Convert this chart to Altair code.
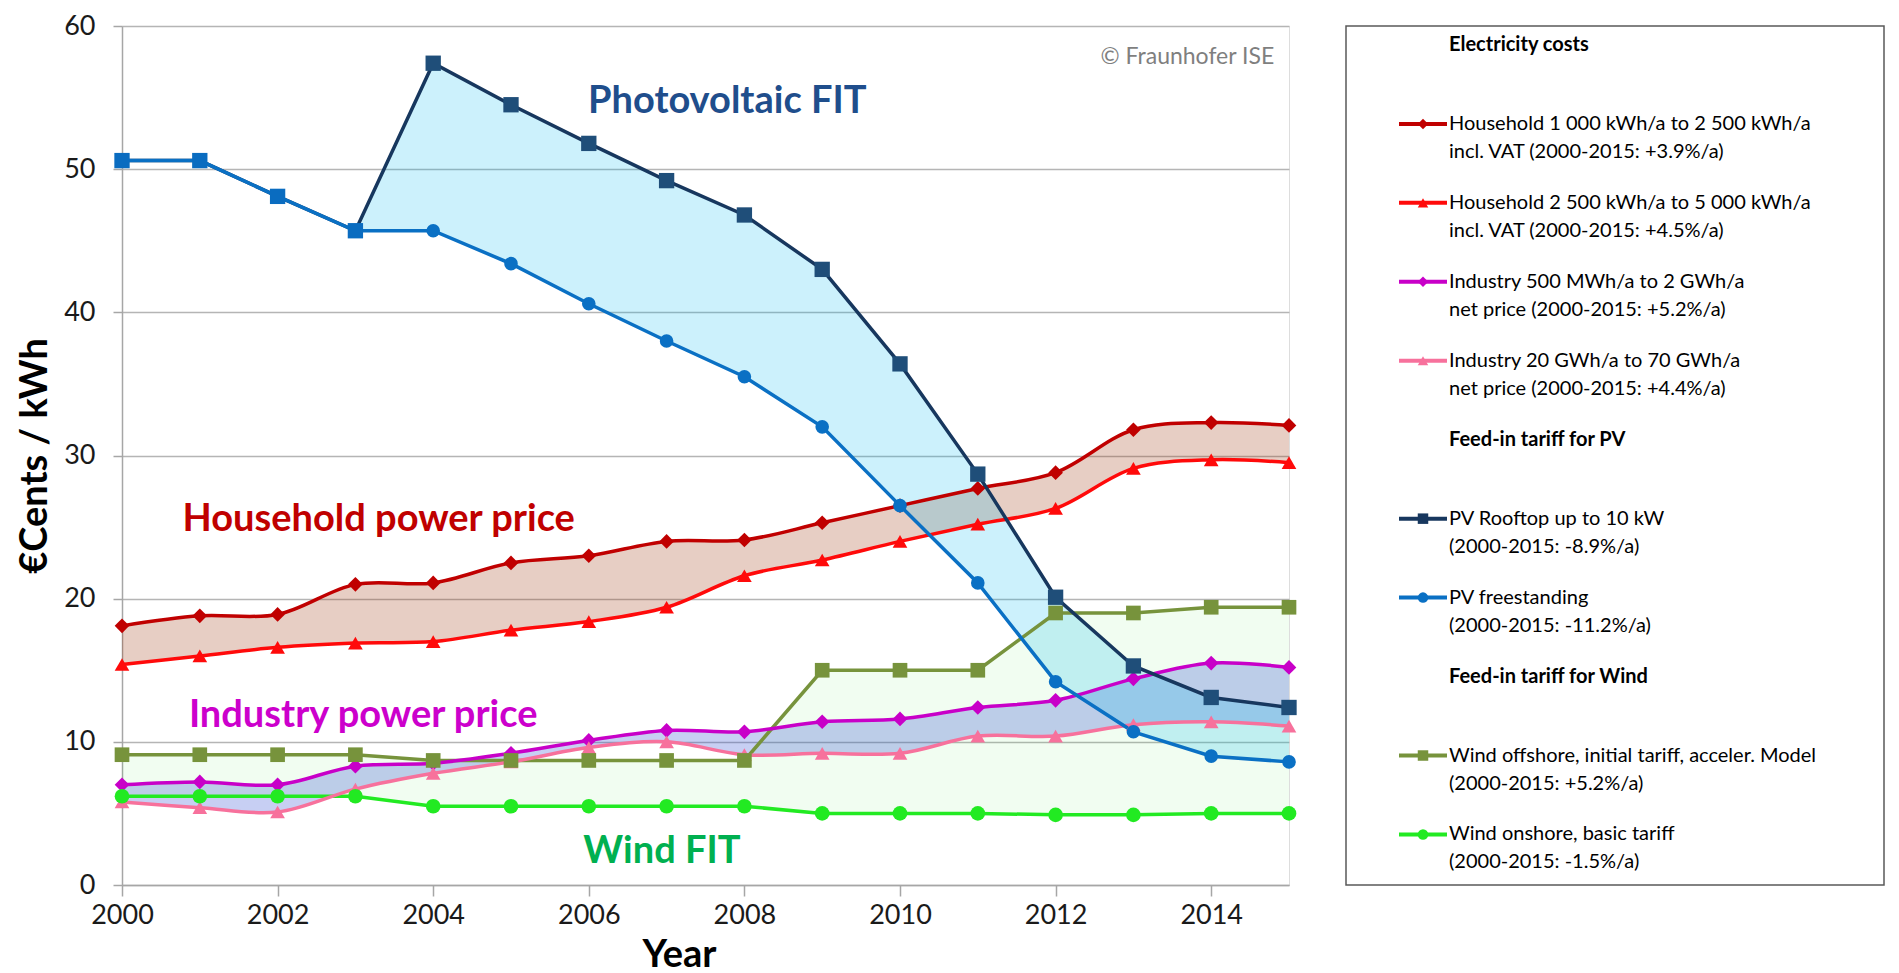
import altair as alt
import pandas as pd

# ---------------- data ----------------
years = list(range(2000, 2016))
household_1000_2500 = [18.1, 18.8, 18.9, 21.0, 21.1, 22.5, 23.0, 24.0, 24.1, 25.3, 26.5, 27.7, 28.8, 31.8, 32.3, 32.1]
household_2500_5000 = [15.4, 16.0, 16.6, 16.9, 17.0, 17.8, 18.4, 19.4, 21.6, 22.7, 24.0, 25.2, 26.3, 29.1, 29.7, 29.5]
industry_500mwh_2gwh = [7.0, 7.2, 7.0, 8.3, 8.5, 9.2, 10.1, 10.8, 10.7, 11.4, 11.6, 12.4, 12.9, 14.4, 15.5, 15.2]
industry_20_70gwh = [5.8, 5.4, 5.1, 6.7, 7.8, 8.6, 9.6, 10.0, 9.1, 9.2, 9.2, 10.4, 10.4, 11.2, 11.4, 11.1]
pv_rooftop = [50.6, 50.6, 48.1, 45.7, 57.4, 54.5, 51.8, 49.2, 46.8, 43.0, 36.4, 28.7, 20.1, 15.3, 13.1, 12.4]
pv_freestanding = [50.6, 50.6, 48.1, 45.7, 45.7, 43.4, 40.6, 38.0, 35.5, 32.0, 26.5, 21.1, 14.2, 10.7, 9.0, 8.6]
wind_offshore = [9.1, 9.1, 9.1, 9.1, 8.7, 8.7, 8.7, 8.7, 8.7, 15.0, 15.0, 15.0, 19.0, 19.0, 19.4, 19.4]
wind_onshore = [6.2, 6.2, 6.2, 6.2, 5.5, 5.5, 5.5, 5.5, 5.5, 5.0, 5.0, 5.0, 4.9, 4.9, 5.0, 5.0]

x_tick_values = [2000, 2002, 2004, 2006, 2008, 2010, 2012, 2014]
y_tick_values = [0, 10, 20, 30, 40, 50, 60]

annotation_labels = ["Photovoltaic FIT", "Household power price", "Industry power price", "Wind FIT"]
annotation_years = [2007.78, 2003.3, 2003.1, 2006.94]
annotation_values = [54.7, 25.5, 11.8, 2.3]
copyright_label = ["© Fraunhofer ISE"]
copyright_year = [2014.81]
copyright_value = [57.8]

legend_keys = ["", "hh1", "hh2", "ind1", "ind2", "", "pv_roof", "pv_free", "", "wind_off", "wind_on"]
legend_line1 = [
    "Electricity costs",
    "Household 1 000 kWh/a to 2 500 kWh/a",
    "Household 2 500 kWh/a to 5 000 kWh/a",
    "Industry 500 MWh/a to 2 GWh/a",
    "Industry 20 GWh/a to 70 GWh/a",
    "Feed-in tariff for PV",
    "PV Rooftop up to 10 kW",
    "PV freestanding",
    "Feed-in tariff for Wind",
    "Wind offshore, initial tariff, acceler. Model",
    "Wind onshore, basic tariff",
]
legend_line2 = [
    "",
    "incl. VAT (2000-2015: +3.9%/a)",
    "incl. VAT (2000-2015: +4.5%/a)",
    "net price (2000-2015: +5.2%/a)",
    "net price (2000-2015: +4.4%/a)",
    "",
    "(2000-2015: -8.9%/a)",
    "(2000-2015: -11.2%/a)",
    "",
    "(2000-2015: +5.2%/a)",
    "(2000-2015: -1.5%/a)",
]

# ---------------- styles ----------------
series_keys = ["hh1", "hh2", "ind1", "ind2", "pv_roof", "pv_free", "wind_off", "wind_on"]
series_colors = ["#c00000", "#ff0a0a", "#c800c8", "#f7719c", "#17375e", "#0a70c4", "#77933c", "#22ea22"]
series_shapes = ["diamond", "triangle-up", "diamond", "triangle-up", "square", "circle", "square", "circle"]
annotation_colors = ["#1f4e8c", "#c00000", "#cc00cc", "#00b050"]

FONT = "Lato"
W, H = 1167, 859

wide = pd.DataFrame({
    "year": years,
    "hh1": household_1000_2500,
    "hh2": household_2500_5000,
    "ind1": industry_500mwh_2gwh,
    "ind2": industry_20_70gwh,
    "pv_roof": pv_rooftop,
    "pv_free": pv_freestanding,
    "wind_off": wind_offshore,
    "wind_on": wind_onshore,
})
long = wide.melt(id_vars="year", var_name="key", value_name="value")

xs = alt.Scale(domain=[2000, 2015], nice=False, zero=False)
ys = alt.Scale(domain=[0, 60], nice=False, zero=True)
x_axis = alt.Axis(values=x_tick_values, format="d", title="Year", grid=False, labelFlush=False,
                  labelFontSize=27, labelPadding=6, tickSize=11, titleFontSize=38,
                  titleFontWeight="bold", titlePadding=8, titleColor="#000000", titleX=557,
                  labelColor="#1a1a1a", domainColor="#a6a6a6", tickColor="#a6a6a6",
                  domainWidth=1.5, tickWidth=1.5, labelFont=FONT, titleFont=FONT)
y_axis = alt.Axis(values=y_tick_values, title="€Cents / kWh", grid=True,
                  gridColor="#b5b5b5", gridWidth=1.5, labelFontSize=27, labelPadding=18,
                  tickSize=9, titleFontSize=38, titleFontWeight="bold", titlePadding=9,
                  titleColor="#000000", labelColor="#1a1a1a", domainColor="#a6a6a6",
                  tickColor="#a6a6a6", domainWidth=1.5, tickWidth=1.5,
                  labelFont=FONT, titleFont=FONT)

X = alt.X("year:Q", scale=xs, axis=x_axis)


def Y(field):
    return alt.Y(f"{field}:Q", scale=ys, axis=y_axis)


color_scale = alt.Scale(domain=series_keys, range=series_colors)
shape_scale = alt.Scale(domain=series_keys, range=series_shapes)

base = alt.Chart(wide)
smooth = "catmull-rom"

wind_fill = base.mark_area(color="#3cdc3c", opacity=0.07).encode(x=X, y=Y("wind_off"), y2="wind_on:Q")
ind_fill = base.mark_area(color="#2846d2", opacity=0.26, interpolate=smooth).encode(x=X, y=Y("ind1"), y2="ind2:Q")
hh_fill = base.mark_area(color="#a03c14", opacity=0.25, interpolate=smooth).encode(x=X, y=Y("hh1"), y2="hh2:Q")
pv_fill = base.mark_area(color="#00b8f0", opacity=0.2).encode(x=X, y=Y("pv_roof"), y2="pv_free:Q")

lbase = alt.Chart(long)
col = alt.Color("key:N", scale=color_scale, legend=None)
shp = alt.Shape("key:N", scale=shape_scale, legend=None)

wind_lines = lbase.transform_filter(
    alt.FieldOneOfPredicate(field="key", oneOf=["wind_off", "wind_on"])
).mark_line(strokeWidth=3.5).encode(x=X, y=Y("value"), color=col)
smooth_lines = lbase.transform_filter(
    alt.FieldOneOfPredicate(field="key", oneOf=["ind2", "ind1", "hh2", "hh1"])
).mark_line(strokeWidth=3.5, interpolate=smooth).encode(x=X, y=Y("value"), color=col)
roof_line = base.mark_line(strokeWidth=3.5, color="#17375e").encode(x=X, y=Y("pv_roof"))
free_line = base.mark_line(strokeWidth=3.5, color="#0a70c4").encode(x=X, y=Y("pv_free"))

other_points = lbase.transform_filter(
    alt.FieldOneOfPredicate(field="key", oneOf=["wind_off", "wind_on", "ind2", "ind1", "hh2", "hh1"])
).mark_point(filled=True, opacity=1, size=215).encode(x=X, y=Y("value"), color=col, shape=shp)

roof_points = base.transform_filter("datum.pv_roof != datum.pv_free").mark_point(
    filled=True, opacity=1, size=235, shape="square", color="#1f4e79"
).encode(x=X, y=Y("pv_roof"))
free_points = base.transform_filter("datum.pv_roof != datum.pv_free").mark_point(
    filled=True, opacity=1, size=185, shape="circle", color="#0a70c4"
).encode(x=X, y=Y("pv_free"))
shared_points = base.transform_filter("datum.pv_roof == datum.pv_free").mark_point(
    filled=True, opacity=1, size=235, shape="square", color="#0a6cc0"
).encode(x=X, y=Y("pv_free"))

annot_df = pd.DataFrame({"label": annotation_labels, "year": annotation_years, "value": annotation_values})
annotations = alt.Chart(annot_df).mark_text(
    font=FONT, fontSize=38, fontWeight="bold", align="center", baseline="middle"
).encode(
    x=alt.X("year:Q", scale=xs, axis=x_axis),
    y=alt.Y("value:Q", scale=ys, axis=y_axis),
    text="label:N",
    color=alt.Color("label:N", scale=alt.Scale(domain=annotation_labels, range=annotation_colors), legend=None),
)
copy_df = pd.DataFrame({"label": copyright_label, "year": copyright_year, "value": copyright_value})
copyright_mark = alt.Chart(copy_df).mark_text(
    font=FONT, fontSize=23, align="right", baseline="middle", color="#7f7f7f"
).encode(
    x=alt.X("year:Q", scale=xs, axis=x_axis),
    y=alt.Y("value:Q", scale=ys, axis=y_axis),
    text="label:N",
)

main = alt.layer(
    wind_fill, ind_fill, hh_fill, pv_fill,
    wind_lines, smooth_lines, roof_line, free_line,
    other_points, roof_points, shared_points, free_points,
    annotations, copyright_mark,
).resolve_scale(color="independent").properties(width=W, height=H)

# ---------------- legend panel ----------------
legend_df = pd.DataFrame({
    "row": list(range(len(legend_keys))),
    "key": legend_keys,
    "line1": legend_line1,
    "line2": legend_line2,
})
leg = alt.Chart(legend_df)
ly = alt.Y("row:Q", scale=alt.Scale(domain=[10.64, -0.24], nice=False, zero=False), axis=None)
items = leg.transform_filter("datum.key != ''")
headers = leg.transform_filter("datum.key == ''")

leg_rule = items.mark_rule(strokeWidth=4).encode(
    x=alt.value(53), x2=alt.value(101), y=ly, color=col)
leg_pts = items.mark_point(filled=True, opacity=1, size=110).encode(
    x=alt.value(77), y=ly, color=col, shape=shp)
leg_t1 = items.mark_text(font=FONT, fontSize=20, align="left", baseline="middle", color="#000000").encode(
    x=alt.value(103), y=ly, text="line1:N")
leg_t2 = items.mark_text(font=FONT, fontSize=20, align="left", baseline="middle", color="#000000", dy=28).encode(
    x=alt.value(103), y=ly, text="line2:N")
leg_h = headers.mark_text(font=FONT, fontSize=20, fontWeight="bold", align="left", baseline="middle",
                          color="#000000").encode(x=alt.value(103), y=ly, text="line1:N")

legend_panel = alt.layer(leg_rule, leg_pts, leg_t1, leg_t2, leg_h).properties(
    width=538, height=H,
    view=alt.ViewBackground(stroke="#595959", strokeWidth=1.5),
)

chart = alt.hconcat(main, legend_panel, spacing=57, bounds="flush").properties(
    padding={"left": 8, "top": 3, "right": 4, "bottom": 0}
).configure_view(stroke="transparent").configure(font=FONT)

chart.save("out.html", embed_options={"renderer": "svg", "actions": False})
